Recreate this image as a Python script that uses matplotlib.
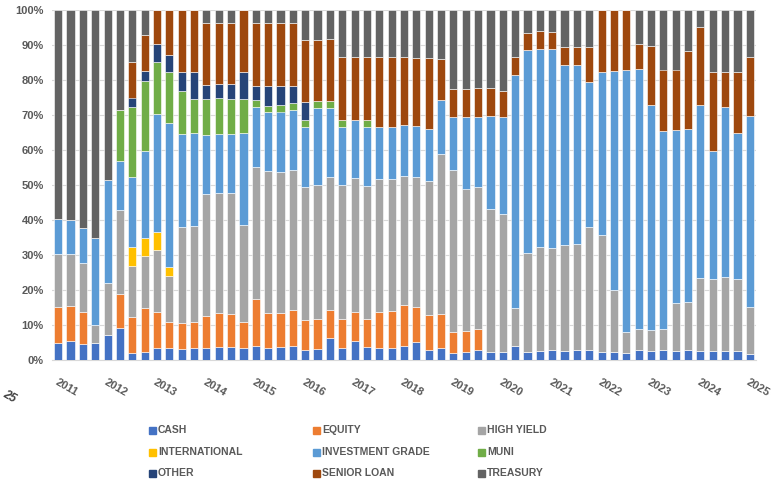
import numpy as np
import matplotlib
matplotlib.use('Agg')
from matplotlib import pyplot as plt
from matplotlib.patches import Rectangle

plt.rcParams['font.family'] = ['Liberation Sans', 'DejaVu Sans']

# quarterly allocation, 2011 Q1 .. 2025 Q1 (57 bars), % of portfolio
years = [str(y) for y in range(2011, 2026)]

cash = [5.0, 5.3, 4.7, 5.0, 7.1, 9.2, 2.1, 2.4, 3.5, 3.5, 3.2, 3.5, 3.3, 3.6, 3.8, 3.5,
        4.1, 3.3, 3.8, 4.0, 3.0, 3.2, 6.2, 3.3, 5.5, 3.6, 3.5, 3.3, 4.0, 5.2, 2.9, 3.5,
        1.9, 2.4, 2.9, 2.2, 2.4, 4.0, 2.4, 2.7, 2.9, 2.7, 3.0, 3.0, 2.4, 2.2, 2.1, 3.0,
        2.7, 3.0, 2.7, 2.9, 2.7, 2.6, 2.7, 2.7, 1.6]
equity = [10.2, 10.1, 9.1, 0, 0, 9.8, 10.1, 12.6, 10.1, 7.3, 7.5, 7.5, 9.3, 9.7, 9.3, 7.5,
          13.2, 10.0, 9.7, 10.3, 8.4, 8.5, 8.1, 8.4, 8.3, 8.0, 10.1, 10.7, 11.7, 10.0, 10.0, 9.6,
          6.2, 5.9, 5.9, 0, 0, 0, 0, 0, 0, 0, 0, 0, 0, 0, 0, 0,
          0, 0, 0, 0, 0, 0, 0, 0, 0]
high_yield = [15.1, 14.9, 13.8, 5.0, 14.8, 23.9, 14.8, 14.7, 17.8, 13.2, 27.2, 27.4, 34.8, 34.5, 34.5, 27.6,
              37.9, 40.7, 40.1, 40.0, 38.1, 38.3, 38.1, 38.3, 38.1, 38.2, 38.1, 37.7, 37.0, 37.2, 38.2, 45.9,
              46.2, 40.7, 40.5, 40.9, 39.3, 11.0, 28.1, 29.5, 29.0, 30.3, 30.1, 34.9, 33.3, 17.8, 6.0, 5.9,
              5.9, 5.9, 13.5, 13.8, 20.6, 20.5, 21.1, 20.4, 13.6]
international = [0, 0, 0, 0, 0, 0, 5.2, 5.3, 5.1, 2.7, 0, 0, 0, 0, 0, 0,
                 0, 0, 0, 0, 0, 0, 0, 0, 0, 0, 0, 0, 0, 0, 0, 0,
                 0, 0, 0, 0, 0, 0, 0, 0, 0, 0, 0, 0, 0, 0, 0, 0,
                 0, 0, 0, 0, 0, 0, 0, 0, 0]
inv_grade = [10.0, 9.7, 10.0, 25.0, 29.5, 14.0, 20.2, 24.8, 33.7, 40.9, 26.6, 26.4, 16.9, 16.7, 16.9, 26.2,
             17.0, 16.8, 17.4, 17.1, 17.2, 21.9, 19.5, 16.7, 16.7, 16.9, 15.0, 15.0, 14.4, 14.6, 14.9, 15.3,
             15.2, 20.5, 20.2, 26.6, 27.8, 66.4, 58.1, 56.8, 56.9, 51.3, 51.2, 41.4, 46.7, 62.7, 74.8, 74.2,
             64.3, 56.5, 49.5, 49.3, 49.6, 36.7, 48.4, 41.7, 54.5]
muni = [0, 0, 0, 0, 0, 14.5, 20.0, 19.9, 15.0, 14.6, 12.4, 9.8, 10.2, 10.3, 10.1, 9.8,
        2.1, 1.8, 1.9, 1.9, 1.9, 2.1, 2.1, 1.9, 0, 1.9, 0, 0, 0, 0, 0, 0,
        0, 0, 0, 0, 0, 0, 0, 0, 0, 0, 0, 0, 0, 0, 0, 0,
        0, 0, 0, 0, 0, 0, 0, 0, 0]
other = [0, 0, 0, 0, 0, 0, 2.6, 3.0, 5.0, 4.9, 5.3, 7.6, 4.1, 4.1, 4.2, 7.6,
         4.0, 5.7, 5.4, 5.1, 5.0, 0, 0, 0, 0, 0, 0, 0, 0, 0, 0, 0,
         0, 0, 0, 0, 0, 0, 0, 0, 0, 0, 0, 0, 0, 0, 0, 0,
         0, 0, 0, 0, 0, 0, 0, 0, 0]
senior_loan = [0, 0, 0, 0, 0, 0, 10.2, 10.2, 9.8, 12.9, 17.8, 17.8, 17.6, 17.3, 17.4, 17.8,
               17.9, 17.9, 17.9, 17.8, 17.8, 17.4, 17.6, 17.9, 17.9, 17.9, 19.8, 19.8, 19.4, 19.4, 20.2, 11.6,
               7.8, 7.8, 8.1, 7.9, 7.5, 5.1, 4.9, 5.1, 5.0, 5.2, 5.0, 10.0, 17.6, 17.3, 17.1, 7.2,
               16.9, 17.6, 17.3, 22.4, 22.3, 22.4, 10.0, 17.4, 17.0]
treasury = [59.7, 60.0, 62.4, 65.0, 48.6, 28.6, 14.8, 7.1, 0, 0, 0, 0, 3.8, 3.8, 3.8, 0,
            3.8, 3.8, 3.8, 3.8, 8.6, 8.6, 8.4, 13.5, 13.5, 13.5, 13.5, 13.5, 13.5, 13.6, 13.8, 14.1,
            22.7, 22.7, 22.4, 22.4, 23.0, 13.5, 6.5, 5.9, 6.2, 10.5, 10.7, 10.7, 0, 0, 0, 9.7,
            10.2, 17.0, 17.0, 11.6, 4.8, 17.8, 17.8, 17.8, 13.3]

series = [
    ('CASH', cash, '#4472C4'),
    ('EQUITY', equity, '#ED7D31'),
    ('HIGH YIELD', high_yield, '#A5A5A5'),
    ('INTERNATIONAL', international, '#FFC000'),
    ('INVESTMENT GRADE', inv_grade, '#5B9BD5'),
    ('MUNI', muni, '#70AD47'),
    ('OTHER', other, '#264478'),
    ('SENIOR LOAN', senior_loan, '#9E480E'),
    ('TREASURY', treasury, '#636363'),
]

fig = plt.figure(figsize=(7.81, 4.79), dpi=100)
ax = fig.add_axes([52 / 781, 119 / 479, 704 / 781, 350 / 479])

x = np.arange(len(cash))
bottom = np.zeros(len(cash))
for name, vals, col in series:
    vals = np.array(vals, dtype=float)
    ax.bar(x, vals, 0.66, bottom=bottom, color=col, edgecolor='white', linewidth=0.4, zorder=3)
    bottom += vals

ax.set_xlim(-0.5, len(cash) - 0.5)
ax.set_ylim(0, 100)
ax.set_yticks(range(0, 101, 10))
ax.set_yticklabels([f'{v}%' for v in range(0, 101, 10)], fontsize=8, fontweight='bold', color='#595959')
ax.yaxis.grid(True, color='#D9D9D9', linewidth=0.8, zorder=0)
ax.tick_params(length=0, pad=6)
for s in ['top', 'right', 'left']:
    ax.spines[s].set_visible(False)
ax.spines['bottom'].set_color('#D9D9D9')

ax.set_xticks(x[::4])
ax.set_xticklabels(years, fontsize=8, fontweight='bold', color='#595959',
                   rotation=-30, ha='left', rotation_mode='anchor')
ax.tick_params(axis='x', pad=12)

# legend, 3 x 3 grid laid out row by row
col_x = [149, 313, 478]
row_y = [430, 452, 473]
for i, (name, vals, col) in enumerate(series):
    cx = col_x[i % 3]
    cy = row_y[i // 3]
    fig.patches.append(Rectangle((cx / 781, 1 - (cy + 3.5) / 479), 7 / 781, 7 / 479,
                                 transform=fig.transFigure, color=col))
    fig.text((cx + 9) / 781, 1 - cy / 479, name, fontsize=7.5, fontweight='bold',
             color='#595959', va='center', ha='left')

fig.text(1 / 781, 1 - 397 / 479, '25', fontsize=8.5, fontweight='bold', color='#404040',
         rotation=-30, va='center', ha='left', style='italic')

plt.savefig('out.png', dpi=100)
